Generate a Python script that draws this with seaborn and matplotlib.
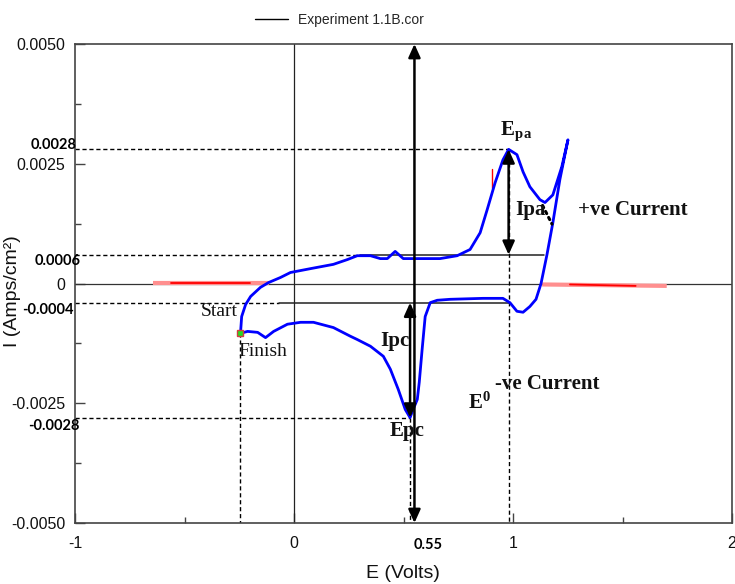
import numpy as np
import pandas as pd
import matplotlib
matplotlib.use("Agg")
import matplotlib.pyplot as plt
from matplotlib.lines import Line2D
from matplotlib.ticker import FixedLocator, MultipleLocator, FixedFormatter
import seaborn as sns

# Cyclic voltammogram: forward (anodic) sweep then reverse (cathodic) sweep
E_fwd = [-0.244, -0.239, -0.221, -0.198, -0.153, -0.116, -0.062, -0.016, 0.075,
         0.180, 0.244, 0.289, 0.349, 0.394, 0.426, 0.462, 0.499, 0.590, 0.667,
         0.745, 0.804, 0.850, 0.882, 0.918, 0.954, 0.980, 1.018, 1.046, 1.077,
         1.123, 1.146, 1.182, 1.223, 1.251]
I_fwd = [-0.00102, -0.00069, -0.00044, -0.00027, -0.00008, 0.00002, 0.000125,
         0.00023, 0.00031, 0.00040, 0.00050, 0.00058, 0.00058, 0.00052, 0.00052,
         0.00067, 0.00052, 0.00052, 0.00052, 0.00058, 0.00071, 0.00106, 0.00154,
         0.00210, 0.00258, 0.00280, 0.00269, 0.00233, 0.00202, 0.00175, 0.00169,
         0.00185, 0.00244, 0.00300]
E_rev = [1.251, 1.214, 1.182, 1.155, 1.128, 1.105, 1.077, 1.046, 1.018, 0.986,
         0.954, 0.863, 0.713, 0.654, 0.622, 0.599, 0.585, 0.572, 0.563, 0.544,
         0.530, 0.508, 0.476, 0.440, 0.408, 0.349, 0.289, 0.257, 0.180, 0.089,
         0.030, -0.030, -0.093, -0.130, -0.166, -0.212, -0.244]
I_rev = [0.00300, 0.00217, 0.00127, 0.00060, 0.00000, -0.00033, -0.00048,
         -0.00060, -0.00058, -0.00040, -0.00031, -0.00031, -0.00033, -0.00035,
         -0.00040, -0.00069, -0.00138, -0.00206, -0.00242, -0.00263, -0.00280,
         -0.00263, -0.00221, -0.00179, -0.00152, -0.00131, -0.00117, -0.00110,
         -0.00092, -0.00081, -0.00081, -0.00085, -0.00100, -0.00113, -0.00102,
         -0.00100, -0.00104]

# Key values marked on the voltammogram
E_start = -0.245
I_start = -0.00104
E_pa, I_pa_top, I_pa_base = 0.98, 0.0028, 0.0006
E_pc, I_pc_bot, I_pc_base = 0.53, -0.0028, -0.0004
E_half = 0.55

# Flat background traces near zero current
E_bg_left = [-0.645, -0.115]
E_bg_left_core = [-0.56, -0.20]
I_bg_left = [0.00002, 0.00002]
E_bg_right = [1.133, 1.702]
E_bg_right_core = [1.26, 1.56]
I_bg_right = [-0.00002, -0.00005]

x_ticks = [-1, 0, 1, 2]
x_ticklabels = ["-1", "0", "1", "2"]
y_ticks = [-0.005, -0.0025, 0, 0.0025, 0.005]
y_ticklabels = ["-0.0050", "-0.0025", "0", "0.0025", "0.0050"]

sns.set_theme(style="ticks")
plt.rcParams["font.family"] = ["Liberation Sans", "DejaVu Sans"]
plt.rcParams["mathtext.fontset"] = "custom"
plt.rcParams["mathtext.bf"] = "Liberation Serif:bold"
plt.rcParams["mathtext.rm"] = "Liberation Serif"
plt.rcParams["mathtext.it"] = "Liberation Serif:italic"

W, H = 735, 584
fig = plt.figure(figsize=(W / 100, H / 100), dpi=100)
L, R, T, B = 75, 732, 44, 523
ax = fig.add_axes([L / W, 1 - B / H, (R - L) / W, (B - T) / H])

ax.set_xlim(-1, 2)
ax.set_ylim(-0.005, 0.005)

# zero reference lines
ax.axhline(0, color="#333333", lw=0.9, zorder=1)
ax.axvline(0, color="#222222", lw=0.9, zorder=1)

dash = (0, (3, 2))
kw_d = dict(color="black", lw=1.0, linestyle=dash, zorder=2)
ax.plot([-1, E_pa], [I_pa_top, I_pa_top], **kw_d)
ax.plot([-1, 0.30], [I_pa_base, I_pa_base], **kw_d)
ax.plot([0.30, 1.14], [I_pa_base, I_pa_base], color="#222222", lw=1.1, zorder=2)
ax.plot([-1, -0.07], [I_pc_base, I_pc_base], **kw_d)
ax.plot([-0.07, E_pa], [I_pc_base, I_pc_base], color="#222222", lw=1.1, zorder=2)
ax.plot([-1, E_pc], [I_pc_bot, I_pc_bot], **kw_d)
ax.plot([E_start, E_start], [I_start, -0.005], **kw_d)
ax.plot([E_pc, E_pc], [I_pc_bot, -0.005], **kw_d)
ax.plot([E_pa, E_pa], [I_pa_top, -0.005], **kw_d)

# background traces
ax.plot(E_bg_left, I_bg_left, color="#ff8f8f", lw=3, solid_capstyle="butt", zorder=2)
ax.plot(E_bg_left_core, I_bg_left, color="red", lw=1.3, zorder=2)
ax.plot(E_bg_right, I_bg_right, color="#ff8f8f", lw=3, solid_capstyle="butt", zorder=2)
ax.plot(E_bg_right_core, I_bg_right, color="red", lw=1.3, zorder=2)

# main CV curve
cv = pd.DataFrame({
    "E": E_fwd + E_rev,
    "I": I_fwd + I_rev,
})
sns.lineplot(data=cv, x="E", y="I", sort=False, estimator=None, color="#0000ff",
             lw=2.0, ax=ax, legend=False, zorder=3)

ax.plot([0.905, 0.905], [0.0024, 0.0020], color="red", lw=1, zorder=2)
ax.plot([E_start], [I_start], marker="s", ms=5, mfc="#22dd22", mec="#d04040",
        mew=1, zorder=4)

# tangent dots beyond the anodic peak
ax.plot([1.135, 1.178], [0.00163, 0.00124], color="black", lw=2.2,
        linestyle=(0, (0.8, 1.4)), dash_capstyle="round", zorder=4)

# double-headed arrows
arrow = dict(arrowstyle="<|-|>,head_length=0.8,head_width=0.36", color="black",
             lw=1.8, mutation_scale=10, shrinkA=0, shrinkB=0)
ax.annotate("", xy=(E_half, 0.005), xytext=(E_half, -0.005), arrowprops=arrow,
            zorder=5, annotation_clip=False)
ax.annotate("", xy=(E_pa, I_pa_top), xytext=(E_pa, I_pa_base), arrowprops=arrow, zorder=5)
ax.annotate("", xy=(E_pc, I_pc_base), xytext=(E_pc, I_pc_bot), arrowprops=arrow, zorder=5)

# ticks
ax.xaxis.set_major_locator(FixedLocator(x_ticks))
ax.xaxis.set_major_formatter(FixedFormatter(x_ticklabels))
ax.xaxis.set_minor_locator(MultipleLocator(0.5))
ax.yaxis.set_major_locator(FixedLocator(y_ticks))
ax.yaxis.set_major_formatter(FixedFormatter(y_ticklabels))
ax.yaxis.set_minor_locator(MultipleLocator(0.00125))
ax.tick_params(which="both", direction="in", color="#444444", width=1.0,
               top=False, right=False, labelsize=11.5, labelcolor="#111111")
ax.tick_params(which="major", length=7)
ax.tick_params(which="minor", length=4.5)
ax.tick_params(axis="x", which="major", pad=9)
ax.tick_params(axis="y", which="major", pad=7)

for s in ax.spines.values():
    s.set_color("#444444")
    s.set_linewidth(1.2)

ax.set_xlabel("E (Volts)", fontsize=14, color="#111111")
ax.set_ylabel("I (Amps/cm\u00b2)", fontsize=14, color="#111111")
ax.xaxis.set_label_coords(0.499, -0.088)
ax.yaxis.set_label_coords(-0.082, 0.484)

# bold value labels on the current axis
vfont = dict(family=["Lato", "DejaVu Sans"], weight="bold", fontsize=10.5, color="black")
blend = ("axes fraction", "data")
ax.annotate("0.0028", xy=(0, I_pa_top), xycoords=blend, xytext=(1, 3.5),
            textcoords="offset points", ha="right", va="center", **vfont)
ax.annotate("0.0006", xy=(0, I_pa_base), xycoords=blend, xytext=(4, -4.5),
            textcoords="offset points", ha="right", va="center", **vfont)
ax.annotate("-0.0004", xy=(0, I_pc_base), xycoords=blend, xytext=(-1, -5),
            textcoords="offset points", ha="right", va="center", **vfont)
ax.annotate("-0.0028", xy=(0, I_pc_bot), xycoords=blend, xytext=(3, -6),
            textcoords="offset points", ha="right", va="center", **vfont)
ax.annotate("0.55", xy=(E_half, 0), xycoords=("data", "axes fraction"),
            xytext=(10, -16), textcoords="offset points", ha="center", va="center",
            **vfont)

# peak and region labels
tb = dict(family=["Liberation Serif", "DejaVu Serif"], weight="bold", fontsize=15,
          color="#111111", ha="center", va="center", zorder=6)
tr = dict(family=["Liberation Serif", "DejaVu Serif"], fontsize=14,
          color="#111111", ha="center", va="center", zorder=6)
ax.text(1.014, 0.00317, r"$\mathbf{E_{p\,a}}$", fontsize=15, ha="center",
        va="center", color="#111111")
ax.text(1.078, 0.00154, "Ipa", **tb)
ax.text(1.545, 0.00154, "+ve Current", **tb)
ax.text(0.462, -0.00121, "Ipc", **tb)
ax.text(0.517, -0.00308, "Epc", **tb)
ax.text(0.845, -0.00248, r"$\mathbf{E^{0}}$", fontsize=15, ha="center",
        va="center", color="#111111")
ax.text(1.155, -0.00210, "-ve Current", **tb)
ax.text(-0.340, -0.00058, "Start", **tr)
ax.text(-0.143, -0.00142, "Finish", **tr)

# series key above the plot
fig.legend(handles=[Line2D([], [], color="black", lw=1)],
           labels=["Experiment 1.1B.cor"], loc="center left",
           bbox_to_anchor=(255 / W, 1 - 20 / H), frameon=False, fontsize=10,
           handlelength=2.4, handletextpad=0.7, borderpad=0, borderaxespad=0)

fig.savefig("out.png", dpi=100)
